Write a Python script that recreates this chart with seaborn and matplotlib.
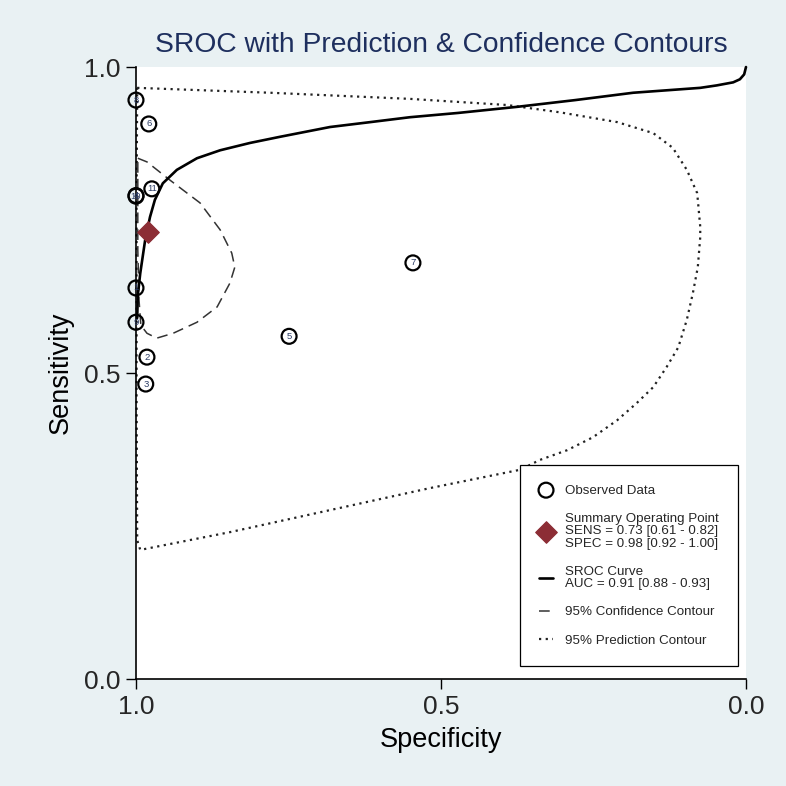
import numpy as np
import pandas as pd
import seaborn as sns
from matplotlib import pyplot as plt

# observed studies (specificity, sensitivity)
study = ['1', '2', '3', '4', '5', '6', '7', '8', '9', '10', '11']
spec = [1.000, 0.982, 0.984, 1.000, 0.749, 0.979, 0.546, 1.000, 1.000, 1.000, 0.974]
sens = [0.639, 0.526, 0.482, 0.790, 0.560, 0.907, 0.680, 0.946, 0.583, 0.789, 0.801]

# summary operating point
sum_spec = [0.98]
sum_sens = [0.73]

# SROC curve
sroc_spec = [0.998, 0.997, 0.993, 0.985, 0.977, 0.969, 0.956, 0.933, 0.900, 0.862,
             0.813, 0.764, 0.723, 0.682, 0.616, 0.551, 0.472, 0.375, 0.280, 0.185,
             0.130, 0.075, 0.048, 0.021, 0.010, 0.003, 0.000]
sroc_sens = [0.590, 0.627, 0.663, 0.717, 0.755, 0.783, 0.810, 0.832, 0.851, 0.864,
             0.876, 0.886, 0.894, 0.902, 0.910, 0.918, 0.925, 0.935, 0.946, 0.958,
             0.962, 0.966, 0.970, 0.975, 0.980, 0.988, 1.000]

# 95% confidence contour
conf_spec = [0.997, 0.982, 0.944, 0.895, 0.862, 0.843, 0.838, 0.846, 0.867, 0.900,
             0.939, 0.966, 0.982, 0.992, 0.995, 0.997, 0.997, 0.997]
conf_sens = [0.851, 0.845, 0.815, 0.778, 0.734, 0.696, 0.673, 0.647, 0.608, 0.583,
             0.565, 0.557, 0.565, 0.578, 0.619, 0.701, 0.783, 0.851]

# 95% prediction contour
pred_spec = [0.998, 0.780, 0.551, 0.392, 0.305, 0.211, 0.152, 0.120, 0.097, 0.080,
             0.075, 0.075, 0.079, 0.087, 0.097, 0.111, 0.130, 0.152, 0.179, 0.211,
             0.251, 0.293, 0.338, 0.370, 0.518, 0.682, 0.846, 0.993, 0.998, 0.999,
             0.999, 0.998]
pred_sens = [0.966, 0.958, 0.948, 0.938, 0.926, 0.910, 0.892, 0.868, 0.832, 0.794,
             0.739, 0.722, 0.673, 0.631, 0.587, 0.542, 0.510, 0.477, 0.451, 0.423,
             0.395, 0.374, 0.358, 0.342, 0.312, 0.276, 0.240, 0.211, 0.227, 0.456,
             0.783, 0.966]

sum_label = 'Summary Operating Point\nSENS = 0.73 [0.61 - 0.82]\nSPEC = 0.98 [0.92 - 1.00]'
sroc_label = 'SROC Curve\nAUC = 0.91 [0.88 - 0.93]'

sns.set_style('white')
plt.rcParams['font.family'] = ['Liberation Sans', 'DejaVu Sans']

bg = '#e9f1f3'
fig = plt.figure(figsize=(7.86, 7.86), dpi=100)
fig.patch.set_facecolor(bg)
ax = fig.add_axes([0.1730, 0.1361, 0.7761, 0.7786])
ax.set_facecolor('white')

df_pred = pd.DataFrame({'spec': pred_spec, 'sens': pred_sens})
df_conf = pd.DataFrame({'spec': conf_spec, 'sens': conf_sens})
df_sroc = pd.DataFrame({'spec': sroc_spec, 'sens': sroc_sens})

sns.lineplot(data=df_pred, x='spec', y='sens', sort=False, estimator=None, ax=ax,
             color='#222222', lw=1.6, linestyle=(0, (1, 2)), label='95% Prediction Contour')
sns.lineplot(data=df_conf, x='spec', y='sens', sort=False, estimator=None, ax=ax,
             color='#333333', lw=1.1, linestyle=(0, (7, 4)), label='95% Confidence Contour')
sns.lineplot(data=df_sroc, x='spec', y='sens', sort=False, estimator=None, ax=ax,
             color='black', lw=1.9, label=sroc_label)
for ln in ax.lines:
    ln.set_clip_on(False)
    ln.set_solid_joinstyle('round')

sns.scatterplot(x=spec, y=sens, ax=ax, s=115, facecolor='none', edgecolor='black',
                linewidth=1.6, label='Observed Data', zorder=4, clip_on=False)
for s, x, y in zip(study, spec, sens):
    ax.text(x, y, s, ha='center', va='center', fontsize=6.8, color='#2c3d66', zorder=5)

sns.scatterplot(x=sum_spec, y=sum_sens, ax=ax, marker='D', s=120, color='#8c2d35',
                edgecolor='#8c2d35', label=sum_label, zorder=6)

ax.set_xlim(1, 0)
ax.set_ylim(0, 1)
ax.set_xticks([1.0, 0.5, 0.0])
ax.set_yticks([0.0, 0.5, 1.0])
ax.set_xticklabels(['1.0', '0.5', '0.0'])
ax.set_yticklabels(['0.0', '0.5', '1.0'])
ax.tick_params(axis='both', direction='out', length=7.5, width=1.0, color='black',
               labelsize=19, pad=4, left=True, bottom=True)
for side in ['top', 'right']:
    ax.spines[side].set_visible(False)
for side in ['left', 'bottom']:
    ax.spines[side].set_color('black')
    ax.spines[side].set_linewidth(1.2)

ax.set_xlabel('Specificity', fontsize=19.5, color='black')
ax.set_ylabel('Sensitivity', fontsize=19.5, color='black')
ax.xaxis.set_label_coords(0.5, -0.079)
ax.yaxis.set_label_coords(-0.102, 0.5)

fig.text(0.561, 0.9427, 'SROC with Prediction & Confidence Contours', ha='center',
         va='center', fontsize=20.3, color='#1e2f5e')

handles, labels = ax.get_legend_handles_labels()
order = ['Observed Data', sum_label, sroc_label, '95% Confidence Contour', '95% Prediction Contour']
hmap = dict(zip(labels, handles))
leg = ax.legend([hmap[k] for k in order], order, loc='upper left',
                bbox_to_anchor=(0.6616, 0.4084), bbox_transform=fig.transFigure,
                fontsize=9.6, frameon=True, fancybox=False, framealpha=1,
                edgecolor='black', borderpad=1.45, labelspacing=1.2,
                handlelength=1.0, handletextpad=0.9, borderaxespad=0)
leg.get_frame().set_linewidth(0.9)
for t in leg.get_texts():
    t.set_linespacing(1.05)

plt.savefig('out.png', dpi=100, facecolor=bg)
